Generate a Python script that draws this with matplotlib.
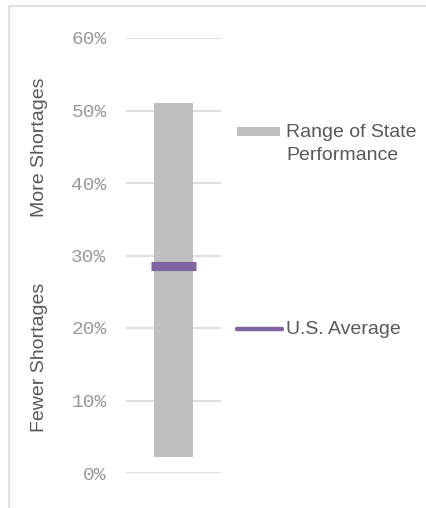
import matplotlib
matplotlib.use("Agg")
import matplotlib.pyplot as plt
from matplotlib.patches import Rectangle
from matplotlib.lines import Line2D

# Data
range_low = 0.022
range_high = 0.51
us_average = 0.286
yticks = [0.0, 0.1, 0.2, 0.3, 0.4, 0.5, 0.6]
ytick_labels = ["0%", "10%", "20%", "30%", "40%", "50%", "60%"]
legend_labels = ["Range of State\nPerformance", "U.S. Average"]
axis_labels = ["More Shortages", "Fewer Shortages"]

W, H = 426, 508
fig = plt.figure(figsize=(W / 100, H / 100), dpi=100)
fig.patch.set_facecolor("white")

# outer frame
fig.patches.append(Rectangle((9 / W, -0.01), 1.1, 1 - 5.5 / H + 0.01,
                             transform=fig.transFigure, fill=False,
                             edgecolor="#d9d9d9", linewidth=1.2))

ax = fig.add_axes([126 / W, 1 - 473 / H, 95 / W, (473 - 38) / H])
ax.set_xlim(-0.5, 0.5)
ax.set_ylim(0, 0.6)
for s in ax.spines.values():
    s.set_visible(False)
ax.set_yticks(yticks)
ax.set_yticklabels(ytick_labels, family="Liberation Mono", fontsize=14, color="#999999")
ax.tick_params(axis="y", length=0, pad=14)
ax.set_xticks([])
ax.grid(axis="y", color="#d9d9d9", linewidth=1.2)
ax.set_axisbelow(True)

ax.bar([0], [range_high - range_low], bottom=[range_low], width=0.41,
       color="#bfbfbf", zorder=2)
ax.plot([-0.237, 0.237], [us_average, us_average], color="#8064a2",
        linewidth=6.6, solid_capstyle="butt", zorder=3)

# y-axis side labels
fig.text(40 / W, 1 - 147 / H, axis_labels[0], rotation=90, ha="center", va="center",
         family="Liberation Sans", fontsize=14, color="#595959")
fig.text(40 / W, 1 - 357 / H, axis_labels[1], rotation=90, ha="center", va="center",
         family="Liberation Sans", fontsize=14, color="#595959")

# legend
fig.patches.append(Rectangle((237 / W, 1 - 136 / H), 43 / W, 9 / H,
                             transform=fig.transFigure, facecolor="#bfbfbf",
                             edgecolor="none"))
fig.text(286 / W, 1 - 144 / H, legend_labels[0], ha="left", va="center",
         family="Liberation Sans", fontsize=14, color="#595959", linespacing=1.5)
fig.lines.append(Line2D([237 / W, 282 / W], [1 - 329 / H, 1 - 329 / H],
                        transform=fig.transFigure, color="#8064a2",
                        linewidth=3.2, solid_capstyle="round"))
fig.text(286 / W, 1 - 329 / H, legend_labels[1], ha="left", va="center",
         family="Liberation Sans", fontsize=14, color="#595959")

fig.savefig("out.png", dpi=100)
